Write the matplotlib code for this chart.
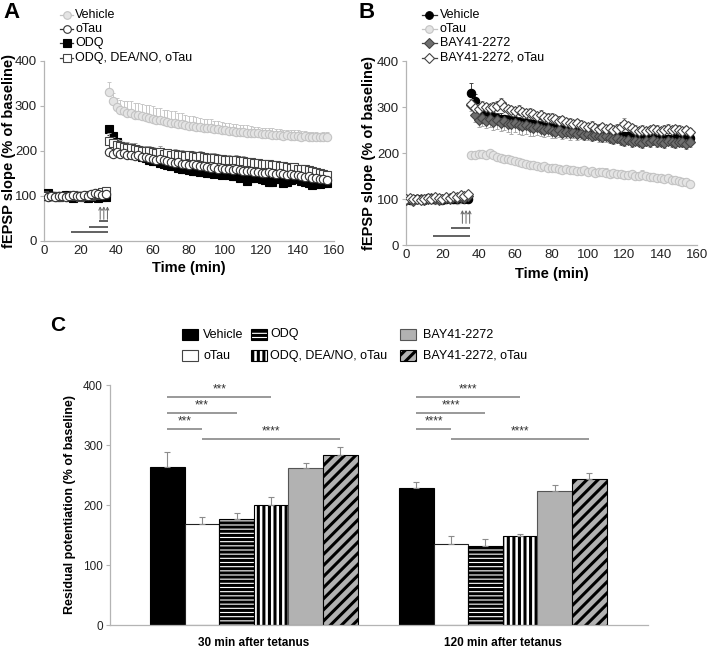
import numpy as np
import matplotlib
matplotlib.use("Agg")
import matplotlib.pyplot as plt
from matplotlib.lines import Line2D
from matplotlib.patches import Rectangle

plt.rcParams['font.family'] = ['Liberation Sans', 'DejaVu Sans']

# ---------------- time course data (A, B) ----------------
time = np.arange(0, 158, 2)   # 0..156 min, 2 min bins; tetanus after 34 min

# panel A
a_vehicle = [100, 98, 101, 99, 97, 100, 102, 98, 99, 101, 100, 97, 99, 102, 100, 98, 101, 100,
             331, 310, 296, 291, 287, 284, 283, 279, 278, 276, 274, 272, 271, 268, 267, 265, 264, 262, 261, 259,
             258, 256, 255, 254, 253, 252, 250, 250, 249, 247, 247, 246, 245, 244, 243, 242, 241, 241, 240, 239,
             238, 238, 237, 236, 236, 235, 235, 234, 233, 234, 232, 233, 232, 231, 232, 230, 231, 230, 229, 231, 230]
a_otau = [98, 97, 99, 96, 100, 98, 97, 99, 101, 98, 100, 102, 99, 104, 106, 103, 101, 104,
          197, 193, 196, 192, 194, 190, 191, 188, 189, 186, 185, 184, 182, 180, 181, 178, 176, 175, 173, 174,
          171, 170, 168, 169, 167, 165, 166, 164, 162, 163, 160, 161, 159, 158, 157, 158, 156, 155, 154, 155,
          152, 153, 151, 150, 152, 149, 148, 150, 147, 146, 148, 145, 146, 144, 142, 143, 140, 139, 137, 136, 135]
a_odq = [103, 105, 100, 98, 96, 99, 101, 97, 95, 98, 100, 96, 94, 97, 99, 95, 97, 96,
         248, 232, 218, 210, 206, 202, 198, 195, 190, 186, 184, 180, 177, 176, 172, 170, 167, 165, 166, 162,
         160, 158, 157, 155, 154, 152, 153, 150, 149, 148, 150, 146, 147, 145, 144, 143, 140, 141, 133, 138,
         139, 142, 137, 135, 130, 131, 137, 136, 128, 129, 134, 138, 137, 133, 130, 127, 124, 126, 125, 128, 127]
a_odq_dea = [101, 99, 98, 100, 97, 99, 100, 98, 101, 99, 97, 100, 102, 99, 101, 104, 108, 110,
             222, 216, 212, 210, 208, 206, 205, 203, 201, 200, 198, 199, 196, 195, 197, 193, 194, 191, 192, 190,
             191, 188, 189, 187, 186, 188, 185, 184, 183, 184, 182, 181, 180, 179, 178, 179, 176, 177, 175, 174,
             173, 172, 171, 170, 169, 168, 167, 166, 165, 164, 162, 163, 160, 158, 159, 156, 155, 153, 150, 148, 146]

a_vehicle_err = [4] * 18 + [21, 18, 20, 22, 24, 25, 26, 27, 28, 27, 28, 29, 28, 27, 28, 26, 27, 25, 26, 24,
                            25, 23, 22, 23, 21, 20, 21, 19, 20, 18, 19, 18, 17, 18, 16, 17, 16, 15, 16, 15,
                            14, 15, 14, 15, 13, 14, 13, 14, 13, 12, 13, 12, 13, 12, 11, 12, 11, 12, 11, 10, 11]
a_otau_err = [3] * 18 + [8, 7, 8, 7, 8, 7, 6, 7, 6, 7, 6, 7, 6, 7, 6, 6, 7, 6, 6, 7,
                         6, 6, 7, 6, 6, 5, 6, 6, 5, 6, 6, 5, 6, 5, 6, 5, 6, 5, 6, 5,
                         5, 6, 5, 6, 5, 5, 6, 5, 5, 6, 5, 5, 6, 5, 5, 6, 5, 5, 6, 5, 6]
a_odq_err = [4] * 18 + [14, 12, 10, 10, 9, 9, 8, 9, 8, 9, 8, 9, 8, 8, 9, 8, 8, 9, 8, 8,
                        9, 8, 8, 9, 8, 8, 9, 8, 8, 7, 8, 8, 7, 8, 8, 7, 8, 7, 8, 7,
                        8, 7, 7, 8, 7, 7, 8, 7, 7, 8, 7, 7, 8, 7, 7, 8, 7, 7, 7, 8, 7]
a_odq_dea_err = [4] * 18 + [16, 14, 13, 14, 12, 13, 12, 13, 12, 11, 12, 11, 12, 11, 12, 11, 10, 11, 12, 11,
                            10, 11, 10, 11, 10, 11, 10, 10, 11, 10, 10, 9, 10, 10, 9, 10, 9, 10, 9, 10,
                            9, 10, 9, 9, 10, 9, 9, 8, 9, 9, 8, 9, 8, 9, 8, 8, 9, 8, 8, 9, 8]

# panel B
b_vehicle = [100, 98, 101, 99, 100, 97, 102, 99, 100, 101, 98, 100, 103, 101, 99, 102, 100, 101,
             330, 312, 290, 285, 282, 280, 278, 276, 275, 273, 272, 270, 269, 268, 266, 265, 263, 262, 260, 259,
             257, 256, 255, 254, 252, 251, 250, 249, 248, 247, 246, 245, 244, 244, 243, 242, 241, 240, 240, 239,
             238, 237, 237, 236, 235, 235, 234, 233, 233, 232, 232, 231, 231, 230, 231, 230, 232, 231, 233, 232, 233]
b_otau = [99, 101, 98, 100, 97, 99, 102, 100, 98, 101, 99, 100, 102, 100, 98, 101, 99, 100,
          196, 195, 197, 198, 196, 199, 195, 192, 190, 188, 186, 184, 183, 180, 179, 176, 175, 173, 172, 170,
          171, 168, 167, 168, 166, 164, 165, 163, 162, 160, 161, 162, 158, 160, 157, 158, 159, 156, 155, 157,
          154, 155, 153, 152, 154, 151, 150, 152, 149, 147, 148, 146, 145, 144, 146, 142, 141, 140, 138, 137, 133]
b_bay = [98, 100, 96, 99, 101, 97, 99, 102, 100, 98, 101, 103, 100, 104, 102, 105, 103, 106,
         305, 282, 272, 276, 270, 274, 268, 272, 266, 270, 264, 262, 265, 260, 258, 261, 256, 254, 257, 252,
         250, 253, 248, 246, 249, 244, 245, 243, 246, 241, 243, 240, 242, 238, 239, 236, 234, 237, 232, 230,
         233, 228, 226, 229, 224, 227, 225, 222, 226, 224, 228, 223, 225, 222, 227, 224, 221, 225, 223, 220, 224]
b_bay_otau = [100, 102, 99, 101, 98, 100, 103, 101, 104, 102, 100, 105, 103, 106, 104, 108, 106, 110,
              307, 298, 296, 302, 299, 297, 300, 303, 308, 300, 296, 293, 291, 294, 289, 286, 288, 284, 281, 283,
              279, 276, 277, 273, 270, 272, 268, 266, 263, 265, 261, 259, 257, 259, 255, 253, 256, 252, 254, 251,
              253, 257, 262, 258, 254, 250, 248, 251, 247, 249, 252, 250, 248, 251, 253, 249, 252, 250, 247, 249, 245]

b_vehicle_err = [4] * 18 + [22, 16, 14, 13, 12, 12, 11, 12, 11, 10, 11, 10, 11, 10, 10, 11, 10, 10, 9, 10,
                            10, 9, 10, 9, 9, 10, 9, 9, 10, 9, 9, 8, 9, 9, 8, 9, 9, 8, 9, 8,
                            9, 8, 8, 9, 8, 8, 9, 8, 8, 9, 8, 8, 9, 8, 8, 9, 8, 8, 9, 8, 8]
b_otau_err = [3] * 18 + [7, 6, 7, 6, 7, 6, 7, 6, 6, 7, 6, 6, 7, 6, 6, 7, 6, 6, 7, 6,
                         6, 7, 6, 6, 7, 6, 6, 7, 6, 6, 7, 6, 10, 6, 6, 7, 6, 12, 6, 7,
                         6, 6, 7, 6, 6, 7, 6, 10, 6, 7, 6, 6, 7, 6, 6, 7, 6, 6, 7, 6, 6]
b_bay_err = [4] * 18 + [14, 15, 16, 17, 16, 18, 17, 19, 18, 20, 19, 21, 20, 19, 18, 20, 19, 18, 17, 16,
                        15, 16, 15, 14, 15, 14, 13, 14, 13, 12, 13, 12, 13, 12, 11, 12, 11, 12, 11, 10,
                        11, 10, 11, 10, 11, 10, 10, 11, 10, 10, 11, 10, 10, 11, 10, 10, 11, 10, 10, 11, 10]
b_bay_otau_err = [4] * 18 + [10, 9, 10, 11, 10, 9, 10, 11, 12, 10, 9, 10, 9, 10, 9, 10, 9, 10, 9, 10,
                             9, 10, 9, 9, 10, 9, 9, 10, 9, 9, 10, 9, 9, 10, 9, 9, 10, 9, 9, 10,
                             9, 10, 14, 9, 9, 10, 9, 9, 10, 9, 9, 10, 9, 9, 10, 9, 9, 10, 9, 9, 10]

# ---------------- residual potentiation (C) ----------------
categories = ['30 min after tetanus', '120 min after tetanus']
group_names = ['Vehicle', 'oTau', 'ODQ', 'ODQ, DEA/NO, oTau', 'BAY41-2272', 'BAY41-2272, oTau']
c_means = {
    'Vehicle': [263, 229],
    'oTau': [168, 135],
    'ODQ': [176, 132],
    'ODQ, DEA/NO, oTau': [200, 148],
    'BAY41-2272': [262, 223],
    'BAY41-2272, oTau': [284, 244],
}
c_errs = {
    'Vehicle': [26, 10],
    'oTau': [12, 13],
    'ODQ': [11, 11],
    'ODQ, DEA/NO, oTau': [13, 4],
    'BAY41-2272': [8, 11],
    'BAY41-2272, oTau': [12, 10],
}
# comparisons: (bar i, bar j, height, stars)
sig_pairs = [(0, 3, 380, 3), (0, 2, 354, 3), (0, 1, 327, 3), (1, 5, 310, 4)]
sig_stars_120 = [4, 4, 4, 4]

W, H = 709, 650
fig = plt.figure(figsize=(W / 100, H / 100), dpi=100)

axis_gray = '#b4b4b4'


def style_time_axis(ax):
    ax.set_xlim(0, 160)
    ax.set_ylim(0, 400)
    ax.set_xticks(range(0, 161, 20))
    ax.set_yticks(range(0, 401, 100))
    for s in ['top', 'right']:
        ax.spines[s].set_visible(False)
    for s in ['left', 'bottom']:
        ax.spines[s].set_color(axis_gray)
        ax.spines[s].set_linewidth(0.9)
    ax.tick_params(axis='both', colors=axis_gray, labelcolor='#222222', labelsize=9.5,
                   length=3, width=0.8, pad=2)
    ax.tick_params(axis='x', length=0, pad=3)
    ax.set_xlabel('Time (min)', fontsize=10.5, fontweight='bold')
    ax.set_ylabel('fEPSP slope (% of baseline)', fontsize=10.5, fontweight='bold')


def series(ax, y, err, marker, mfc, mec, ecol, ms=5.5, down=False, z=3):
    y = np.array(y, float)
    err = np.array(err, float)
    zero = np.zeros_like(err)
    yerr = [err, zero] if down else [zero, err]
    ax.errorbar(time, y, yerr=yerr, fmt='none', ecolor=ecol, elinewidth=0.7,
                capsize=1.5, capthick=0.7, zorder=z - 0.5)
    ax.plot(time, y, linestyle='none', marker=marker, ms=ms, mfc=mfc, mec=mec,
            mew=0.8, zorder=z)


def stim_marks(ax, bars):
    for x0, x1, yy in bars:
        ax.plot([x0, x1], [yy, yy], color='#555555', lw=1.3, solid_capstyle='butt')
    for xa in [31, 33, 35]:
        ax.annotate('', xy=(xa, 76), xytext=(xa, 47),
                    arrowprops=dict(arrowstyle='->', lw=0.7, color='#666666',
                                    mutation_scale=5, shrinkA=0, shrinkB=0))


def fig_legend(entries, x_line, x_text, ys):
    for (label, marker, mfc, mec, lc), yp in zip(entries, ys):
        yf = 1 - yp / H
        fig.add_artist(Line2D([x_line[0] / W, x_line[1] / W], [yf, yf],
                              transform=fig.transFigure, color=lc, lw=0.9))
        fig.add_artist(Line2D([(x_line[0] + x_line[1]) / 2 / W], [yf], transform=fig.transFigure,
                              linestyle='none', marker=marker, ms=5.5, mfc=mfc, mec=mec, mew=0.8))
        fig.text(x_text / W, yf, label, fontsize=9, va='center', ha='left')


# ---------------- panel A ----------------
axA = fig.add_axes([44 / W, 1 - 240.5 / H, 290 / W, 180 / H])
style_time_axis(axA)
series(axA, a_vehicle, a_vehicle_err, 'o', '#e4e4e4', '#c4c4c4', '#c8c8c8', ms=6, z=3)
series(axA, a_odq, a_odq_err, 's', 'black', 'black', '#333333', ms=5.5, down=True, z=4)
series(axA, a_odq_dea, a_odq_dea_err, 's', 'white', '#444444', '#9a9a9a', ms=5.5, z=5)
series(axA, a_otau, a_otau_err, 'o', 'white', '#333333', '#9a9a9a', ms=6, z=6)
stim_marks(axA, [(15, 35.4, 18), (25, 35.4, 31), (30.3, 35.4, 43)])
axA.yaxis.set_label_coords(-0.097, 0.5)
axA.xaxis.set_label_coords(0.5, -0.115)

fig_legend([('Vehicle', 'o', '#e4e4e4', '#c4c4c4', '#c4c4c4'),
            ('oTau', 'o', 'white', '#333333', '#333333'),
            ('ODQ', 's', 'black', 'black', '#333333'),
            ('ODQ, DEA/NO, oTau', 's', 'white', '#444444', '#444444')],
           (60, 73), 75, [15, 28.5, 43, 57.5])

# ---------------- panel B ----------------
axB = fig.add_axes([406 / W, 1 - 245 / H, 291 / W, 184 / H])
style_time_axis(axB)
series(axB, b_otau, b_otau_err, 'o', '#e4e4e4', '#c4c4c4', '#c8c8c8', ms=6, z=3)
series(axB, b_vehicle, b_vehicle_err, 'o', 'black', 'black', '#444444', ms=6, z=4)
series(axB, b_bay, b_bay_err, 'D', '#6e6e6e', '#444444', '#aaaaaa', ms=5, down=True, z=5)
series(axB, b_bay_otau, b_bay_otau_err, 'D', 'white', '#444444', '#999999', ms=5, z=6)
stim_marks(axB, [(14.7, 35.2, 19.6), (25, 35.2, 36)])
axB.yaxis.set_label_coords(-0.103, 0.5)
axB.xaxis.set_label_coords(0.5, -0.12)

fig_legend([('Vehicle', 'o', 'black', 'black', '#333333'),
            ('oTau', 'o', '#e4e4e4', '#c4c4c4', '#c4c4c4'),
            ('BAY41-2272', 'D', '#6e6e6e', '#444444', '#444444'),
            ('BAY41-2272, oTau', 'D', 'white', '#444444', '#444444')],
           (422, 437), 440, [15, 28.5, 43, 57.5])

# ---------------- panel C ----------------
axC = fig.add_axes([110 / W, 1 - 625 / H, 538 / W, 240 / H])
group_offset = [0, 7.2]
bar_styles = {
    'Vehicle': dict(facecolor='black', edgecolor='black', hatch=None),
    'oTau': dict(facecolor='white', edgecolor='#222222', hatch=None),
    'ODQ': dict(facecolor='white', edgecolor='black', hatch='----'),
    'ODQ, DEA/NO, oTau': dict(facecolor='white', edgecolor='black', hatch='|||'),
    'BAY41-2272': dict(facecolor='#b2b2b2', edgecolor='#555555', hatch=None),
    'BAY41-2272, oTau': dict(facecolor='#b2b2b2', edgecolor='black', hatch='///'),
}
plt.rcParams['hatch.linewidth'] = 2.2
for gi, off in enumerate(group_offset):
    for bi, name in enumerate(group_names):
        st = bar_styles[name]
        xb = off + bi
        axC.bar(xb, c_means[name][gi], width=1.0, facecolor=st['facecolor'],
                edgecolor=st['edgecolor'], hatch=st['hatch'], linewidth=0.8, zorder=2)
        axC.errorbar(xb, c_means[name][gi], yerr=[[0], [c_errs[name][gi]]], fmt='none',
                     ecolor='#8c8c8c', elinewidth=0.8, capsize=2.5, capthick=0.8, zorder=3)

    stars_list = [p[3] for p in sig_pairs] if gi == 0 else sig_stars_120
    for (i, j, hy, _), ns in zip(sig_pairs, stars_list):
        axC.plot([off + i, off + j], [hy, hy], color='#999999', lw=1.4,
                 solid_capstyle='butt', clip_on=False, zorder=2)
        axC.text(off + (i + j) / 2, hy + 2, '*' * ns, ha='center', va='bottom',
                 fontsize=8.5, color='#333333')

axC.set_xlim(-1.66, 13.9)
axC.set_ylim(0, 400)
axC.set_yticks(range(0, 401, 100))
axC.set_xticks([])
for s in ['top', 'right']:
    axC.spines[s].set_visible(False)
for s in ['left', 'bottom']:
    axC.spines[s].set_color(axis_gray)
    axC.spines[s].set_linewidth(0.9)
axC.tick_params(axis='y', colors=axis_gray, labelcolor='#222222', labelsize=8.5,
                length=3, width=0.8, pad=2)
axC.set_ylabel('Residual potentiation (% of baseline)', fontsize=9, fontweight='bold')
axC.yaxis.set_label_coords(-0.063, 0.5)
for gi, off in enumerate(group_offset):
    axC.text(off + 2.5, -18 / 0.6, categories[gi], ha='center', va='center',
             fontsize=8.5, fontweight='bold')

# legend for C
c_leg = [
    ('Vehicle', 182, 203, 334.5), ('oTau', 182, 203, 356),
    ('ODQ', 251, 270, 334.5), ('ODQ, DEA/NO, oTau', 251, 270, 356),
    ('BAY41-2272', 400, 423, 334.5), ('BAY41-2272, oTau', 400, 423, 356),
]
for name, xp, xt, yp in c_leg:
    st = bar_styles[name]
    rect = Rectangle((xp / W, 1 - (yp + 5.5) / H), 16 / W, 11 / H, transform=fig.transFigure,
                     facecolor=st['facecolor'], edgecolor=st['edgecolor'] if name != 'oTau' else '#444444',
                     hatch=st['hatch'], linewidth=0.8)
    fig.add_artist(rect)
    fig.text(xt / W, 1 - yp / H, name, fontsize=9, va='center', ha='left')

# panel letters
fig.text(3 / W, 1 - 2 / H, 'A', fontsize=16, fontweight='bold', va='top')
fig.text(358 / W, 1 - 2 / H, 'B', fontsize=16, fontweight='bold', va='top')
fig.text(50 / W, 1 - 316 / H, 'C', fontsize=15, fontweight='bold', va='top')

fig.savefig('out.png', dpi=100)
